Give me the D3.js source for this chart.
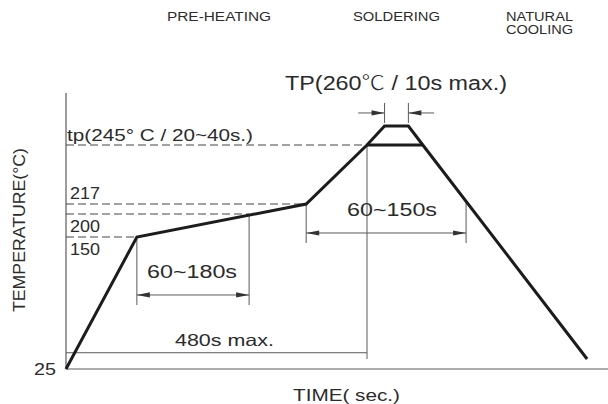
<!DOCTYPE html>
<html>
<head>
<meta charset="utf-8">
<script src="https://cdn.jsdelivr.net/npm/d3@7"></script>
<style>
  html, body { margin: 0; padding: 0; background: #fff; }
  svg { display: block; }
  text { font-family: "Liberation Sans", Arial, "DejaVu Sans", "Noto Sans CJK SC", sans-serif; fill: #2b2b2b; }
</style>
</head>
<body>
<svg id="chart" width="608" height="404"></svg>
<script>
// ---- data (time in s, temperature in °C; schematic reflow profile) ----
const profileTime = [0, 113, 383, 480, 508, 546, 569, 831];
const profileTemp = [25, 150, 217, 245, 260, 260, 245, 34.5];

const tempTicks = [25, 150, 200, 217, 245, 260];          // reference temperatures
const tickLabels = ["25", "150", "200", "217"];
const phaseLabels = ["PRE-HEATING", "SOLDERING", "NATURAL", "COOLING"];
const tpLabel = "tp(245° C / 20~40s.)";
const TPLabelParts = ["TP(260", "\u2103", " / 10s max.)"];
const spanLabels = ["60~180s", "60~150s", "480s max."];
const axisTitles = ["TIME( sec.)", "TEMPERATURE(°C)"];

// ---- scales ----
const svg = d3.select("#chart");
const x = d3.scaleLinear().domain([0, 480]).range([66, 367]);
const y = d3.scaleLinear().domain(tempTicks).range([369, 237, 214, 204, 145, 126]);

const ink = "#1c1c1c", thin = "#5a5a5a";

// axes
svg.append("line").attr("x1", x(0)).attr("x2", 608).attr("y1", y(25)).attr("y2", y(25))
  .attr("stroke", thin).attr("stroke-width", 1.2);
svg.append("line").attr("x1", x(0)).attr("x2", x(0)).attr("y1", y(25)).attr("y2", y(286))
  .attr("stroke", thin).attr("stroke-width", 1.2);

// dashed reference lines
const dashes = [
  {t: 245, t1: 480},
  {t: 217, t1: 383},
  {t: 200, t1: 292},
  {t: 150, t1: 113}
];
svg.selectAll("line.dash").data(dashes).enter().append("line")
  .attr("x1", x(0)).attr("x2", d => x(d.t1))
  .attr("y1", d => y(d.t)).attr("y2", d => y(d.t))
  .attr("stroke", "#444").attr("stroke-width", 1).attr("stroke-dasharray", "8,4");

// dimension lines (thin)
function vline(t, a, b) {
  svg.append("line").attr("x1", x(t)).attr("x2", x(t)).attr("y1", y(a)).attr("y2", y(b))
    .attr("stroke", thin).attr("stroke-width", 1);
}
function hline(a, b, temp) {
  svg.append("line").attr("x1", x(a)).attr("x2", x(b)).attr("y1", y(temp)).attr("y2", y(temp))
    .attr("stroke", thin).attr("stroke-width", 1);
}
function arrowHead(t, temp, dir) { // dir = +1 points right, -1 points left
  const px = x(t), py = y(temp), L = 13, W = 2.6;
  svg.append("path")
    .attr("d", `M${px},${py} L${px - dir * L},${py - W} L${px - dir * L},${py + W} Z`)
    .attr("fill", "#333");
}

// 60~180s
vline(113, 150, 85.6);
vline(292, 200, 85.6);
hline(113, 292, 95.1);
arrowHead(113, 95.1, -1);
arrowHead(292, 95.1, 1);

// 60~150s
vline(383, 217, 144.3);
vline(638, 218.4, 144.3);
hline(383, 638, 158.7);
arrowHead(383, 158.7, -1);
arrowHead(638, 158.7, 1);

// 480s max.
vline(480, 245, 34.5);
hline(0, 480, 40.4);

// 10s max. arrows at peak
vline(508, 262.4, 278.2);
vline(546, 262.4, 278.2);
hline(466, 508, 270.3);
hline(546, 587, 270.3);
arrowHead(508, 270.3, 1);
arrowHead(546, 270.3, -1);

// profile
const pts = profileTime.map((t, i) => [t, profileTemp[i]]);
svg.append("path").datum(pts)
  .attr("d", d3.line().x(d => x(d[0])).y(d => y(d[1])))
  .attr("fill", "none").attr("stroke", ink).attr("stroke-width", 3)
  .attr("stroke-linejoin", "miter");
// tp plateau bar
svg.append("line").attr("x1", x(480)).attr("x2", x(569)).attr("y1", y(245)).attr("y2", y(245))
  .attr("stroke", ink).attr("stroke-width", 3);

// ---- text ----
function txt(s, px, py, size, w, rot) {
  const t = svg.append("text").attr("font-size", size).text(s)
    .attr("textLength", w).attr("lengthAdjust", "spacingAndGlyphs");
  if (rot) t.attr("transform", `translate(${px},${py}) rotate(-90)`);
  else t.attr("x", px).attr("y", py);
  return t;
}
txt(phaseLabels[0], 167, 21, 12.5, 104);
txt(phaseLabels[1], 353, 21, 12.5, 87);
txt(phaseLabels[2], 506, 21, 12.5, 67);
txt(phaseLabels[3], 506, 33.5, 12.5, 67);

// TP label with a CJK-style ℃ glyph
const tp = svg.append("text").attr("x", 285).attr("y", 90).attr("font-size", 20)
  .attr("textLength", 222).attr("lengthAdjust", "spacingAndGlyphs");
tp.append("tspan").text(TPLabelParts[0]);
tp.append("tspan").text(TPLabelParts[1])
  .style("font-family", '"Noto Sans CJK SC", "DejaVu Sans", sans-serif').style("font-weight", 300);
tp.append("tspan").text(TPLabelParts[2]);

txt(tpLabel, 67, 141, 16, 186);

txt(tickLabels[3], 70, 199, 16.5, 30);
txt(tickLabels[2], 70, 232, 16.5, 30);
txt(tickLabels[1], 70, 255, 16.5, 30);
txt(tickLabels[0], 34, 375, 16.5, 22);

txt(spanLabels[0], 147, 278, 18, 90);
txt(spanLabels[1], 347, 216, 18, 90);
txt(spanLabels[2], 175, 346, 16.5, 99);

txt(axisTitles[0], 293, 401, 16.5, 107);
txt(axisTitles[1], 25, 312, 16, 164, true);
</script>
</body>
</html>
